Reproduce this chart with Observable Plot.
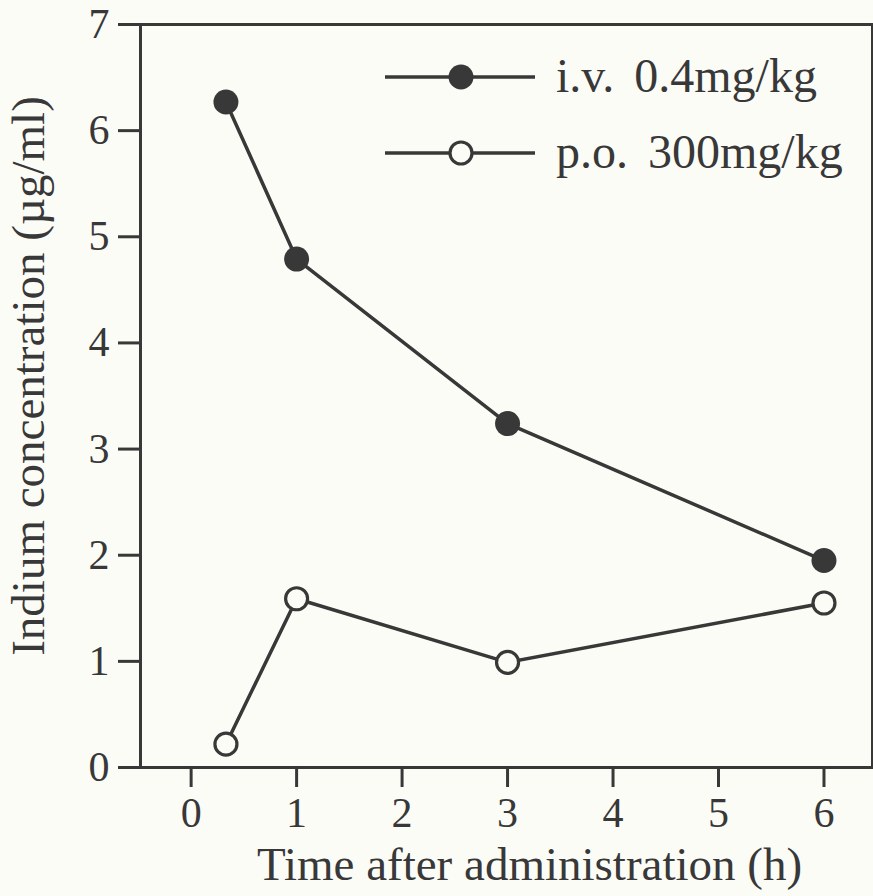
<!DOCTYPE html>
<html>
<head>
<meta charset="utf-8">
<script src="https://cdn.jsdelivr.net/npm/d3@7"></script>
<script src="https://cdn.jsdelivr.net/npm/@observablehq/plot@0.6"></script>
<style>
  html, body { margin: 0; padding: 0; background: #fcfcf7; }
  #wrap { position: relative; width: 873px; height: 896px; }
  #legend { position: absolute; left: 0; top: 0; }
</style>
</head>
<body>
<div id="wrap"></div>
<script>
// ---- data ----
const times = [0.33, 1, 3, 6];
const ivValues = [6.27, 4.79, 3.24, 1.95];
const poValues = [0.22, 1.59, 0.99, 1.55];
const seriesNames = ["i.v. 0.4mg/kg", "p.o. 300mg/kg"];
const xTicks = [0, 1, 2, 3, 4, 5, 6];
const yTicks = [0, 1, 2, 3, 4, 5, 6, 7];
const xLabel = "Time after administration (h)";
const yLabel = "Indium concentration (\u00b5g/ml)";

const rows = [
  ...times.map((t, i) => ({series: seriesNames[0], time: t, value: ivValues[i]})),
  ...times.map((t, i) => ({series: seriesNames[1], time: t, value: poValues[i]}))
];

const ink = "#383838";
const font = "'Liberation Serif', 'Times New Roman', serif";

const chart = Plot.plot({
  width: 873,
  height: 896,
  marginLeft: 140,
  marginRight: 1,
  marginTop: 24,
  marginBottom: 129,
  x: {domain: [-0.48, 6.46]},
  y: {domain: [0, 7]},
  style: {fontFamily: font, fontSize: "42px", background: "transparent", color: ink},
  marks: [
    Plot.frame({stroke: ink, strokeWidth: 3}),
    Plot.axisX({ticks: xTicks, tickSize: 20, tickPadding: 10, strokeWidth: 3, tickFormat: d => String(d), label: null}),
    Plot.axisY({ticks: yTicks, tickSize: 22, tickPadding: 9, strokeWidth: 3, tickFormat: d => String(d), label: null}),
    Plot.text([xLabel], {frameAnchor: "bottom", text: d => d, dy: 112, dx: 23, fontSize: 47, fill: ink}),
    Plot.text([yLabel], {frameAnchor: "left", textAnchor: "middle", text: d => d, rotate: -90, dx: -112, dy: -20, fontSize: 47, fill: ink}),
    Plot.line(rows, {x: "time", y: "value", z: "series", stroke: ink, strokeWidth: 3.5}),
    Plot.dot(rows.filter(d => d.series === seriesNames[0]), {x: "time", y: "value", r: 12.5, fill: ink, stroke: "none"}),
    Plot.dot(rows.filter(d => d.series === seriesNames[1]), {x: "time", y: "value", r: 11, fill: "#fcfcf7", stroke: ink, strokeWidth: 3.2})
  ]
});
document.getElementById("wrap").appendChild(chart);

// ---- legend (overlay) ----
const ns = "http://www.w3.org/2000/svg";
const leg = document.createElementNS(ns, "svg");
leg.setAttribute("id", "legend");
leg.setAttribute("width", 873);
leg.setAttribute("height", 200);
const legRows = [{y: 77, filled: true}, {y: 153, filled: false}];
legRows.forEach((r, i) => {
  const l = document.createElementNS(ns, "line");
  l.setAttribute("x1", 385); l.setAttribute("x2", 535);
  l.setAttribute("y1", r.y); l.setAttribute("y2", r.y);
  l.setAttribute("stroke", ink); l.setAttribute("stroke-width", 3.5);
  leg.appendChild(l);
  const c = document.createElementNS(ns, "circle");
  c.setAttribute("cx", 461); c.setAttribute("cy", r.y);
  c.setAttribute("r", r.filled ? 12.5 : 11);
  c.setAttribute("fill", r.filled ? ink : "#fcfcf7");
  c.setAttribute("stroke", r.filled ? "none" : ink);
  c.setAttribute("stroke-width", 3.2);
  leg.appendChild(c);
  const t = document.createElementNS(ns, "text");
  t.setAttribute("x", 556); t.setAttribute("y", r.y);
  t.setAttribute("dy", "0.32em");
  t.setAttribute("font-family", font);
  t.setAttribute("font-size", 48);
  t.setAttribute("word-spacing", "8px");
  t.setAttribute("fill", ink);
  t.textContent = seriesNames[i];
  leg.appendChild(t);
});
document.getElementById("wrap").appendChild(leg);
</script>
</body>
</html>
